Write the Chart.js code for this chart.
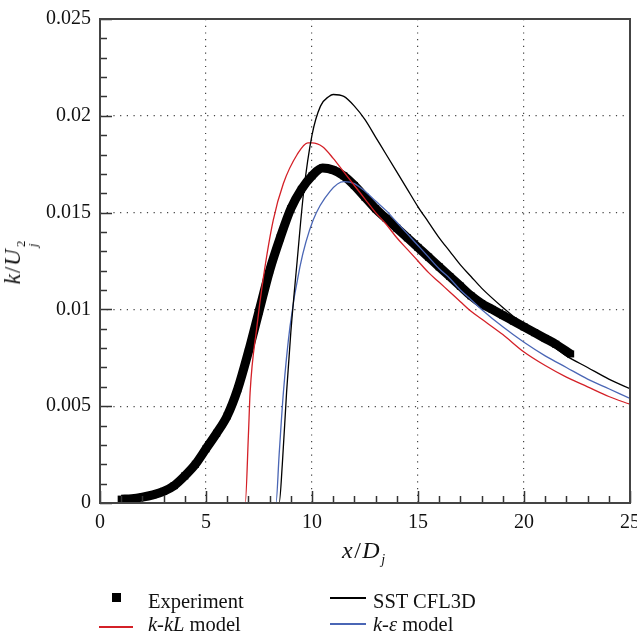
<!DOCTYPE html>
<html>
<head>
<meta charset="utf-8">
<script src="https://cdn.jsdelivr.net/npm/chart.js@4"></script>
<style>
  body { margin: 0; background: #fff; }
  #wrap { position: relative; width: 637px; height: 635px; font-family: "Liberation Serif", serif; color: #111; }
  #wrap canvas { position: absolute; left: 0; top: 0; }
  .txt { position: absolute; font-size: 20.5px; line-height: 20px; white-space: nowrap; }
  .sw { position: absolute; }
  .ss { display: inline-flex; flex-direction: column; font-size: 13px; line-height: 12px; vertical-align: -5px; margin-left: 1px; }
</style>
</head>
<body>
<div id="wrap">
  <canvas id="kChart" width="637" height="635"></canvas>
  <div class="txt" id="xTitle" style="left:342px; top:540px; font-size:24px; letter-spacing:1.5px;"><i>x</i>/<i>D</i><i style="font-size:14px; position:relative; top:6px;">j</i></div>
  <div class="txt" id="yTitle" style="left:21px; top:262px; font-size:23px; letter-spacing:1px; transform: translate(-50%,-50%) rotate(-90deg);"><i>k</i>/<i>U</i><span class="ss"><span>2</span><i>j</i></span></div>

  <div class="sw" style="left:112px; top:593px; width:9px; height:9px; background:#000;"></div>
  <div class="txt" style="left:148px; top:591px;">Experiment</div>
  <div class="sw" style="left:99px; top:626px; width:34px; height:1.5px; background:#d42027;"></div>
  <div class="txt" style="left:148px; top:614px;"><i>k</i>-<i>kL</i> model</div>

  <div class="sw" style="left:330px; top:597px; width:36px; height:1.5px; background:#000;"></div>
  <div class="txt" style="left:373px; top:591px;">SST CFL3D</div>
  <div class="sw" style="left:330px; top:623px; width:36px; height:1.5px; background:#4a66b5;"></div>
  <div class="txt" style="left:373px; top:614px;"><i>k</i>-<i>ε</i> model</div>
</div>
<script>
// experiment (x/Dj, k/Uj^2)
const expX = [1.0, 1.5, 2.0, 2.5, 3.0, 3.5, 4.0, 4.5, 5.0, 5.5, 6.0, 6.5, 7.0, 7.5, 8.0, 8.5, 9.0, 9.5, 10.0, 10.5, 11.0, 11.5, 12.0, 12.5, 13.0, 13.5, 14.0, 14.5, 15.0, 15.5, 16.0, 16.5, 17.0, 17.5, 18.0, 18.5, 19.0, 19.5, 20.0, 20.5, 21.0, 21.5, 22.2];
const expY = [0.0002, 0.00022, 0.0003, 0.00042, 0.0006, 0.0009, 0.0014, 0.002, 0.0028, 0.0036, 0.0045, 0.0059, 0.0078, 0.0099, 0.012, 0.0137, 0.0152, 0.0162, 0.0169, 0.0173, 0.0172, 0.0169, 0.0164, 0.0158, 0.0152, 0.0147, 0.0142, 0.0137, 0.0132, 0.0127, 0.0122, 0.0117, 0.0112, 0.0107, 0.0103, 0.01, 0.0097, 0.0094, 0.0091, 0.0088, 0.0085, 0.0082, 0.0077];

// SST CFL3D
const sstX = [0, 8.45, 8.6, 8.8, 9.0, 9.3, 9.6, 10.0, 10.4, 10.8, 11.0, 11.5, 12.0, 12.5, 13.0, 13.5, 14.0, 14.5, 15.0, 15.5, 16.0, 16.5, 17.0, 17.5, 18.0, 19.0, 20.0, 21.0, 22.0, 23.0, 24.0, 25.0];
const sstY = [0, 0, 0.002, 0.0057, 0.0088, 0.0125, 0.016, 0.019, 0.0205, 0.021, 0.0211, 0.021, 0.0205, 0.0198, 0.0189, 0.018, 0.0171, 0.0162, 0.0153, 0.0145, 0.0137, 0.013, 0.0123, 0.0117, 0.0111, 0.0101, 0.0092, 0.0084, 0.0076, 0.007, 0.0064, 0.0059];

// k-kL model
const kklX = [0, 6.85, 7.0, 7.08, 7.4, 7.7, 8.17, 8.65, 9.3, 9.8, 10.0, 10.5, 11.0, 11.5, 12.0, 12.5, 13.0, 13.5, 14.0, 14.5, 15.0, 15.5, 16.0, 16.5, 17.0, 17.5, 18.0, 19.0, 20.0, 21.0, 22.0, 23.0, 24.0, 25.0];
const kklY = [0, 0, 0.0035, 0.0057, 0.0091, 0.0116, 0.0146, 0.0165, 0.018, 0.0186, 0.0186, 0.0184, 0.0178, 0.0171, 0.0164, 0.0157, 0.015, 0.0144, 0.0137, 0.0131, 0.0125, 0.0119, 0.0114, 0.0109, 0.0104, 0.0099, 0.0095, 0.0087, 0.0078, 0.0071, 0.0065, 0.006, 0.0055, 0.0051];

// k-epsilon model
const keX = [0, 8.3, 8.45, 8.65, 8.96, 9.43, 10.05, 10.85, 11.5, 12.0, 12.5, 13.0, 13.5, 14.0, 14.5, 15.0, 15.5, 16.0, 16.5, 17.0, 17.5, 18.0, 19.0, 20.0, 21.0, 22.0, 23.0, 24.0, 25.0];
const keY = [0, 0, 0.0025, 0.0057, 0.0091, 0.0122, 0.0146, 0.0161, 0.0166, 0.0165, 0.0161, 0.0156, 0.0151, 0.0145, 0.0139, 0.0133, 0.0127, 0.0121, 0.0116, 0.011, 0.0105, 0.01, 0.0091, 0.0083, 0.0076, 0.007, 0.0064, 0.0059, 0.0054];

const xTicks = [0, 5, 10, 15, 20, 25];
const yTicks = [0, 0.005, 0.01, 0.015, 0.02, 0.025];

function pairs(xs, ys) {
    return xs.map((x, i) => ({ x: x, y: ys[i] }));
}

// frame + inward major/minor ticks
const frameTicks = {
    id: 'frameTicks',
    afterDraw(chart) {
        const { ctx, chartArea: a, scales } = chart;
        const xs = scales.x, ys = scales.y;
        ctx.save();
        ctx.strokeStyle = '#333';
        ctx.lineWidth = 1.5;
        for (let v = 0; v <= 25; v++) {
            const px = Math.round(xs.getPixelForValue(v)) + 0.5;
            const len = v % 5 === 0 ? 12 : 7;
            ctx.beginPath();
            ctx.moveTo(px, a.bottom);
            ctx.lineTo(px, a.bottom - len);
            ctx.stroke();
        }
        for (let i = 0; i <= 25; i++) {
            const py = Math.round(ys.getPixelForValue(i * 0.001)) + 0.5;
            const len = i % 5 === 0 ? 12 : 7;
            ctx.beginPath();
            ctx.moveTo(a.left, py);
            ctx.lineTo(a.left + len, py);
            ctx.stroke();
        }
        ctx.strokeStyle = '#444';
        ctx.lineWidth = 2;
        ctx.strokeRect(a.left, a.top, a.right - a.left, a.bottom - a.top);
        ctx.restore();
    }
};

const ctx = document.getElementById('kChart').getContext('2d');
new Chart(ctx, {
    type: 'line',
    data: {
        datasets: [{
            label: 'Experiment',
            data: pairs(expX, expY),
            borderColor: '#000',
            backgroundColor: '#000',
            borderWidth: 9,
            pointStyle: 'rect',
            pointRadius: 5,
            pointBorderWidth: 0,
            cubicInterpolationMode: 'monotone',
            order: 10
        }, {
            label: 'SST CFL3D',
            data: pairs(sstX, sstY),
            borderColor: '#000',
            borderWidth: 1.3,
            pointRadius: 0,
            cubicInterpolationMode: 'monotone',
            order: 1
        }, {
            label: 'k-kL model',
            data: pairs(kklX, kklY),
            borderColor: '#d42027',
            borderWidth: 1.3,
            pointRadius: 0,
            cubicInterpolationMode: 'monotone',
            order: 2
        }, {
            label: 'k-ε model',
            data: pairs(keX, keY),
            borderColor: '#4a66b5',
            borderWidth: 1.3,
            pointRadius: 0,
            cubicInterpolationMode: 'monotone',
            order: 3
        }]
    },
    options: {
        responsive: false,
        animation: false,
        layout: { autoPadding: false, padding: { top: 19, right: 7, left: 0, bottom: 0 } },
        plugins: { legend: { display: false }, tooltip: { enabled: false } },
        scales: {
            x: {
                type: 'linear',
                min: 0, max: 25,
                afterFit: s => { s.height = 132; s.paddingLeft = 0; s.paddingRight = 0; },
                afterBuildTicks: s => { s.ticks = xTicks.map(v => ({ value: v })); },
                grid: { color: '#444', lineWidth: 1.2, drawTicks: false },
                border: { display: false, dash: [1.2, 5.5] },
                ticks: { color: '#111', padding: 8, maxRotation: 0, font: { family: 'Liberation Serif', size: 20 } }
            },
            y: {
                type: 'linear',
                min: 0, max: 0.025,
                afterFit: s => { s.width = 100; s.paddingTop = 0; s.paddingBottom = 0; },
                afterBuildTicks: s => { s.ticks = yTicks.map(v => ({ value: v })); },
                grid: { color: '#444', lineWidth: 1.2, drawTicks: false },
                border: { display: false, dash: [1.2, 5.5] },
                ticks: {
                    color: '#111', padding: 9,
                    font: { family: 'Liberation Serif', size: 20 },
                    callback: v => String(parseFloat(v.toFixed(3)))
                }
            }
        }
    },
    plugins: [frameTicks]
});
</script>
</body>
</html>
